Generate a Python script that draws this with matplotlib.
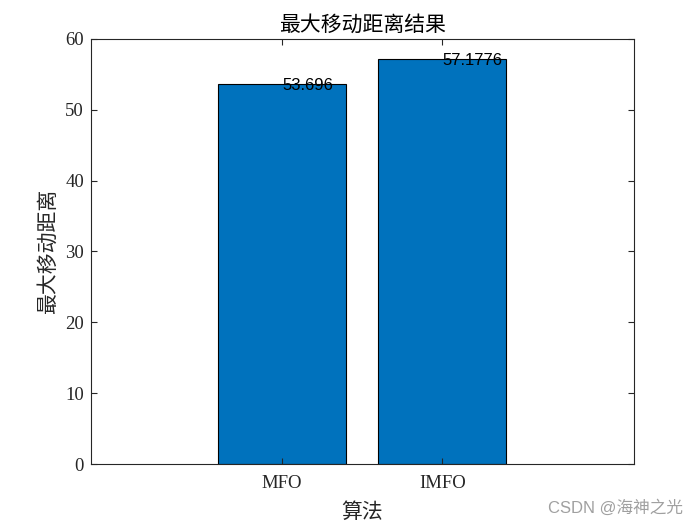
import numpy as np
import matplotlib
matplotlib.use("Agg")
import matplotlib.pyplot as plt

# data
algorithms = ["MFO", "IMFO"]
max_distance = [53.696, 57.1776]
value_labels = ["53.696", "57.1776"]

cjk = ["Noto Sans CJK SC", "DejaVu Sans"]
serif = ["Liberation Serif", "Noto Sans CJK SC"]
dark = "#262626"

fig = plt.figure(figsize=(7, 5.25), dpi=100)
ax = fig.add_axes([0.13, 0.116, 0.775, 0.81])

x = np.arange(1, len(algorithms) + 1)
ax.bar(x, max_distance, width=0.8, color="#0072BD",
       edgecolor="black", linewidth=0.8)

for xi, v, lab in zip(x, max_distance, value_labels):
    ax.annotate(lab, (xi, v), xytext=(0, -1.5), textcoords="offset points",
                ha="left", va="center", fontsize=12,
                family="Liberation Sans", color="black")

ax.set_xlim(-0.194, 3.194)
ax.set_ylim(0, 60)
ax.set_xticks(x)
ax.set_xticklabels(algorithms)
ax.set_yticks(np.arange(0, 61, 10))

ax.tick_params(direction="in", top=True, right=True, length=4,
               width=0.8, colors=dark, labelsize=13.5)
ax.tick_params(axis="x", pad=8)
ax.tick_params(axis="y", pad=5)
for lab in ax.get_xticklabels() + ax.get_yticklabels():
    lab.set_family(serif)
for s in ax.spines.values():
    s.set_color(dark)
    s.set_linewidth(0.8)

ax.set_title("最大移动距离结果", family=cjk, fontsize=15, color="black", pad=6)
ax.set_xlabel("算法", family=cjk, fontsize=15, color=dark, labelpad=6)
ax.set_ylabel("最大移动距离", family=cjk, fontsize=15, color=dark, labelpad=5)

fig.text(0.975, 0.033, "CSDN @海神之光", ha="right", va="center",
         fontsize=12, color="#a0a0a0", family=["Liberation Sans", "Noto Sans CJK SC"])

fig.savefig("out.png", dpi=100)
